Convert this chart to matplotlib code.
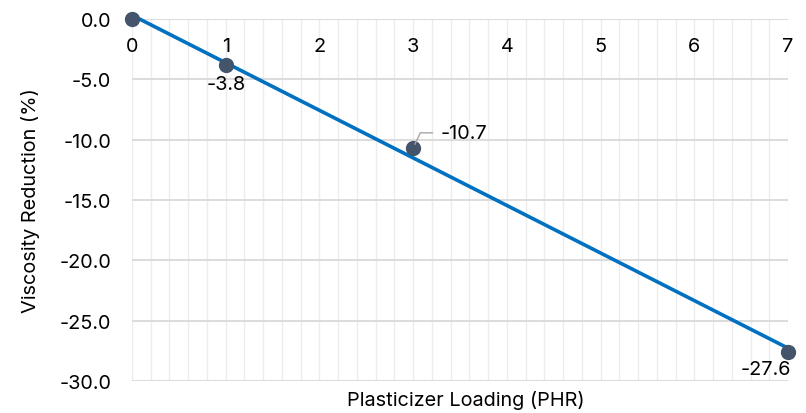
import matplotlib
matplotlib.use("Agg")
import matplotlib.pyplot as plt
import numpy as np

plt.rcParams['font.family'] = ['Inter', 'DejaVu Sans']

loading = [0, 1, 3, 7]
reduction = [0.0, -3.8, -10.7, -27.6]
labels = ["", "-3.8", "-10.7", "-27.6"]
x_ticks = [0, 1, 2, 3, 4, 5, 6, 7]
y_ticks = [0, -5, -10, -15, -20, -25, -30]

FS = 14.3

fig = plt.figure(figsize=(8.06, 4.14), dpi=100)
ax = fig.add_axes([132/806, 1-382/414, (788-132)/806, (382-20)/414])

ax.set_xlim(0, 7)
ax.set_ylim(-30, 0)

# grid
for xv in np.arange(0, 7.0001, 0.2):
    ax.axvline(xv, color='#ececec', lw=1.0, zorder=0)
for yv in y_ticks:
    ax.axhline(yv, color='#d9d9d9', lw=1.3, zorder=0.5)

# trendline
coef = np.polyfit(loading, reduction, 1)
xs = np.array([0, 7])
ax.plot(xs, np.polyval(coef, xs), color='#0070C0', lw=2.6, zorder=2, clip_on=False,
        solid_capstyle='butt')

ax.plot(loading, reduction, 'o', color='#44546A', ms=10, zorder=3, clip_on=False)

for s in ax.spines.values():
    s.set_visible(False)

ax.set_yticks(y_ticks)
ax.set_yticklabels([f"{v:.1f}" for v in y_ticks], fontsize=FS)
ax.tick_params(axis='y', length=0, pad=15)

ax.spines['bottom'].set_position(('data', 0))
ax.set_xticks(x_ticks)
ax.set_xticklabels([str(v) for v in x_ticks], fontsize=FS)
ax.tick_params(axis='x', length=0, pad=13)

ax.set_ylabel("Viscosity Reduction (%)", fontsize=FS, labelpad=14)
fig.text(466/806, 1-401/414, "Plasticizer Loading (PHR)", fontsize=FS,
         ha='center', va='center')

# data labels
ax.annotate(labels[1], (loading[1], reduction[1]), xytext=(0, -7), textcoords='offset points',
            ha='center', va='top', fontsize=FS)
ax.annotate(labels[2], (loading[2], reduction[2]), xytext=(20, 11), textcoords='offset points',
            ha='left', va='center', fontsize=FS,
            arrowprops=dict(arrowstyle='-', color='#a6a6a6', lw=1,
                            connectionstyle='angle,angleA=0,angleB=65,rad=0',
                            shrinkA=4, shrinkB=3, relpos=(0, 0.5)))
ax.annotate(labels[3], (loading[3], reduction[3]), xytext=(2, -6), textcoords='offset points',
            ha='right', va='top', fontsize=FS)

fig.savefig("out.png", dpi=100)
